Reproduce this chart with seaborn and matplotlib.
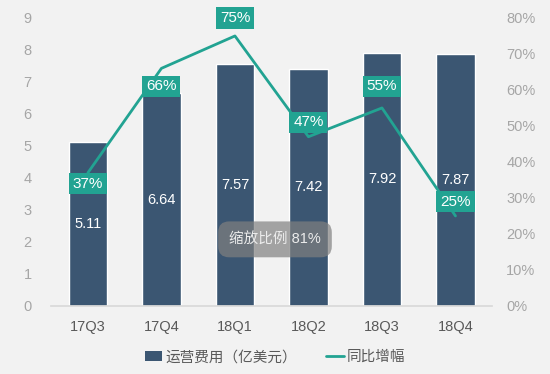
import numpy as np
import pandas as pd
import seaborn as sns
import matplotlib.pyplot as plt
from matplotlib.patches import Patch
from matplotlib.lines import Line2D

quarters = ["17Q3", "17Q4", "18Q1", "18Q2", "18Q3", "18Q4"]
op_cost = [5.11, 6.64, 7.57, 7.42, 7.92, 7.87]
yoy_growth = [37, 66, 75, 47, 55, 25]
label_offset = [-3, -5, 5, 4, 6, 4]  # percent-label shift vs. point, in % units

BAR = "#3b5672"
TEAL = "#22a392"
BG = "#f2f2f2"
TICK = "#a6a6a6"

sns.set_theme(style="white")
plt.rcParams["font.family"] = ["Liberation Sans", "Noto Sans CJK SC", "DejaVu Sans"]

df = pd.DataFrame({"quarter": quarters, "cost": op_cost, "yoy": yoy_growth})

fig = plt.figure(figsize=(5.5, 3.74), dpi=100, facecolor=BG)
ax = fig.add_axes([0.093, 0.182, 0.802, 0.77], facecolor=BG)

sns.barplot(data=df, x="quarter", y="cost", color=BAR, width=0.52,
            saturation=1, ax=ax, zorder=2)
ax.set_ylim(0, 9)
ax.set_xlim(-0.5, 5.5)
ax.set_yticks(range(10))
ax.set_xlabel("")
ax.set_ylabel("")
ax.tick_params(axis="y", colors=TICK, labelsize=10.5, length=0, pad=14)
ax.tick_params(axis="x", colors="#595959", labelsize=10.5, length=0, pad=10)
for s in ["top", "right", "left"]:
    ax.spines[s].set_visible(False)
ax.spines["bottom"].set_color("#d9d9d9")

for i, v in enumerate(op_cost):
    ax.text(i, v / 2, f"{v:.2f}", ha="center", va="center", color="white",
            fontsize=10.5, zorder=3)

ax2 = ax.twinx()
sns.lineplot(x=np.arange(len(quarters)), y=yoy_growth, color=TEAL, lw=2,
             ax=ax2, zorder=3)
ax2.set_ylim(0, 80)
ax2.set_yticks(range(0, 81, 10))
ax2.set_yticklabels([f"{t}%" for t in range(0, 81, 10)])
ax2.tick_params(axis="y", colors=TICK, labelsize=10.5, length=0, pad=10)
for s in ax2.spines.values():
    s.set_visible(False)

for i, v in enumerate(yoy_growth):
    ax2.text(i, v + label_offset[i], f"{v}%", ha="center", va="center",
             color="white", fontsize=11, zorder=5, clip_on=False,
             bbox=dict(boxstyle="square,pad=0.25", fc=TEAL, ec="none"))

# zoom indicator overlay from the screenshot
fig.text(0.5, 0.36, "缩放比例 81%", ha="center", va="center", color="#ececec",
         fontsize=10.5, zorder=10,
         bbox=dict(boxstyle="round,pad=0.75", fc="#808080", ec="none", alpha=0.7))

handles = [Patch(fc=BAR, ec="none"), Line2D([], [], color=TEAL, lw=2)]
fig.legend(handles, ["运营费用（亿美元）", "同比增幅"], loc="center",
           bbox_to_anchor=(0.5, 0.045), ncol=2, frameon=False, fontsize=10.5,
           labelcolor="#595959", handlelength=1.2, handletextpad=0.2,
           columnspacing=2.0)

fig.savefig("out.png", dpi=100, facecolor=BG)
